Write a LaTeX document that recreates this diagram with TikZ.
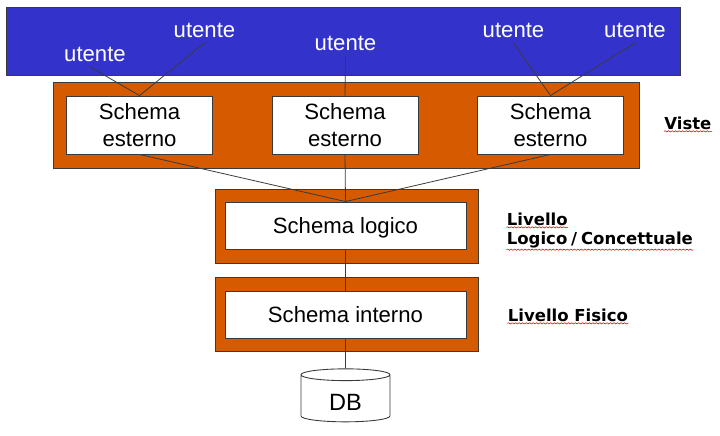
\documentclass[tikz,border=0pt]{standalone}
\usepackage{xcolor}
\usepackage{fontspec}
\setmainfont{Liberation Sans}
\newfontfamily\labelfont{DejaVu Sans}
\usetikzlibrary{shapes.geometric,decorations.pathmorphing}
\definecolor{BandBlue}{HTML}{3333CC}
\definecolor{FrameOrange}{HTML}{D55A00}
\definecolor{nInk}{HTML}{3A3A3A}
\tikzset{
  band/.style={draw=nInk, fill=BandBlue, line width=0.5pt, inner sep=0pt},
  frame/.style={draw=nInk, fill=FrameOrange, line width=0.5pt, inner sep=0pt},
  schemabox/.style={draw=nInk, fill=white, line width=0.5pt, inner sep=0pt, align=center, font=\fontsize{12.6}{15.3}\selectfont},
  utente/.style={text=white, inner sep=3pt, font=\fontsize{12.6}{14.6}\selectfont},
  link/.style={draw=nInk, line width=0.45pt},
  levellabel/.style={anchor=base west, inner sep=0pt, font=\labelfont\bfseries\fontsize{9.4}{11}\selectfont},
  squiggle/.style={draw=red!80!black, line width=0.3pt, decorate, decoration={snake, amplitude=0.35pt, segment length=2pt}}
}
\begin{document}
\begin{tikzpicture}[x=0.02cm, y=-0.02cm]
      \useasboundingbox (0,0) rectangle (720,436);
      \node[band, minimum width=13.48cm, minimum height=1.35cm] (users) at (343.5,41.5) {};
      \node[frame, minimum width=11.72cm, minimum height=1.72cm] (viewframe) at (346,125) {};
      \node[frame, minimum width=5.26cm, minimum height=1.48cm] (logicframe) at (346.5,226) {};
      \node[frame, minimum width=5.26cm, minimum height=1.48cm] (physframe) at (346.5,314) {};
      % external schemas
      \foreach \n/\x in {ea/139.5, eb/345, ec/550.5}
        \node[schemabox, minimum width=2.92cm, minimum height=1.16cm] (\n) at (\x,125) {Schema\\esterno};
      \node[schemabox, text depth=0pt, minimum width=4.82cm, minimum height=0.94cm] (logic) at (345.5,225.5) {Schema logico};
      \node[schemabox, minimum width=4.82cm, minimum height=0.94cm] (phys) at (345.5,314.5) {Schema interno};
      \node[cylinder, shape border rotate=90, aspect=0.36, draw=nInk, fill=white, line width=0.5pt, inner sep=0pt, text height=14pt,
        minimum width=1.78cm, minimum height=1.06cm, font=\fontsize{13.4}{15}\selectfont] (db) at (345.5,398.5) {DB};
      % users
      \foreach \n/\x/\y in {ua/95/54, ub/204.5/30, uc/345.5/43, ud/513.5/30, ue/635/30}
        \node[utente] (\n) at (\x,\y) {utente};
      \draw[link] ([xshift=-2.8pt]ua.south) -- (ea.north);
      \foreach \a/\b in {ub/ea, uc/eb, ud/ec, ue/ec}
        \draw[link] (\a.south) -- (\b.north);
      \foreach \a in {ea, eb, ec}
        \draw[link] (\a.south) -- (logic.north);
      \draw[link] (logic.south) -- (phys.north);
      \draw[link] (phys.south) -- (db.north);
      % level labels
      \node[levellabel] (viste) at (664,129) {Viste};
      \node[levellabel] (livA) at (506.5,225) {Livello};
      \node[levellabel] (livB) at (506.5,244) {Logico\kern2.2pt/\kern2.2pt Concettuale};
      \node[levellabel] (livC) at (507.5,321) {Livello Fisico};
      \foreach \n in {viste, livA, livB, livC}
        \draw[squiggle] ([yshift=-1pt]\n.south west) -- ([yshift=-1pt]\n.south east);
    \end{tikzpicture}
\end{document}
